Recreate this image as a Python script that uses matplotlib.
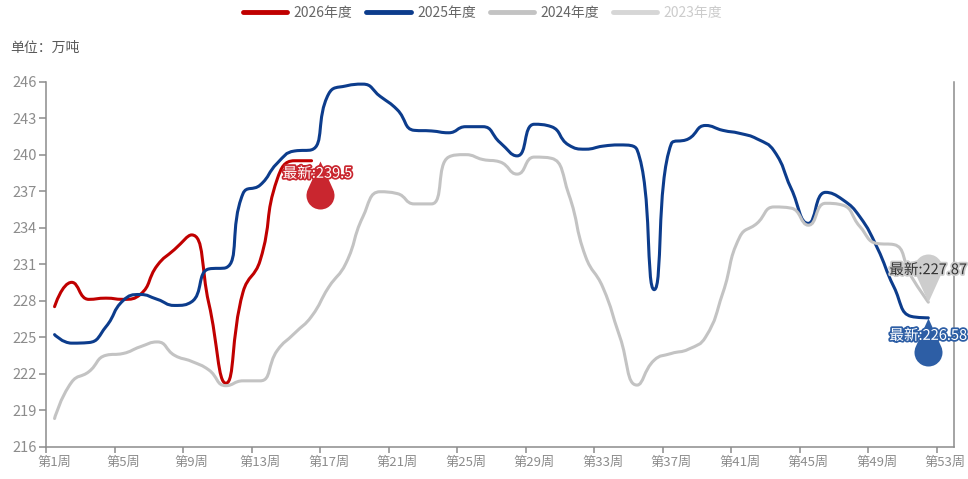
import numpy as np
import matplotlib
matplotlib.use("Agg")
import matplotlib.pyplot as plt
from matplotlib.path import Path
from matplotlib.patches import PathPatch
from matplotlib.lines import Line2D
from matplotlib import patheffects
from matplotlib.transforms import offset_copy

plt.rcParams["font.family"] = ["Liberation Sans Narrow", "Noto Sans CJK SC", "DejaVu Sans"]

weeks = list(range(1, 54))
week_labels = ["第%d周" % w for w in weeks]
series_names = ["2026年度", "2025年度", "2024年度", "2023年度"]

y2026 = [227.5, 229.5, 228.1, 228.2, 228.1, 228.5, 230.9, 232.2, 233.4, 227.8,
         221.2, 228.7, 231.3, 238.0, 239.5, 239.5]
y2025 = [225.2, 224.5, 224.55, 225.85, 228.0, 228.5, 228.1, 227.6, 227.9, 230.6,
         230.7, 236.8, 237.5, 239.3, 240.3, 240.4, 245.0, 245.65, 245.8, 244.8,
         243.7, 242.0, 241.95, 241.8, 242.3, 242.3, 241.0, 239.9, 242.5, 242.3,
         240.8, 240.45, 240.7, 240.8, 240.4, 228.9, 240.9, 241.3, 242.4, 242.0,
         241.75, 241.3, 240.3, 237.2, 234.35, 236.9, 236.3, 234.9, 232.4, 229.1,
         226.7, 226.58]
y2024 = [218.3, 221.3, 222.15, 223.5, 223.65, 224.2, 224.6, 223.5, 223.0, 222.3,
         221.0, 221.4, 221.4, 223.9, 225.3, 226.7, 229.1, 231.05, 234.9, 236.95,
         236.8, 235.95, 235.95, 239.8, 240.0, 239.6, 239.4, 238.4, 239.8, 239.7,
         236.8, 231.6, 229.1, 225.0, 221.05, 223.1, 223.65, 224.0, 225.0, 228.6,
         233.25, 234.35, 235.7, 235.6, 234.2, 236.0, 235.85, 234.1, 232.7, 232.6,
         230.0, 227.87]

line_colors = ["#c00000", "#0c3c8c", "#c3c3c3", "#d6d6d6"]
pin_colors = ["#c9262f", "#2d5ea5", "#cdcdcd"]


def smooth_path(ax, xs, ys, smooth=0.5):
    # bezier smoothing like echarts "smooth: true", done in pixel space
    pts = ax.transData.transform(np.column_stack([xs, ys]))
    n = len(pts)
    verts = [pts[0]]
    codes = [Path.MOVETO]
    cp0 = pts[0]
    for i in range(1, n):
        px, py = pts[i - 1]
        x, y = pts[i]
        if i == n - 1:
            cp1 = np.array([x, y])
            next_cp0 = cp1
        else:
            nx, ny = pts[i + 1]
            vx, vy = nx - px, ny - py
            len_prev = np.hypot(x - px, y - py)
            len_next = np.hypot(nx - x, ny - y)
            ratio = len_next / (len_next + len_prev)
            ncx = x + vx * smooth * ratio
            ncy = y + vy * smooth * ratio
            ncx = max(min(ncx, max(nx, x)), min(nx, x))
            ncy = max(min(ncy, max(ny, y)), min(ny, y))
            vx, vy = ncx - x, ncy - y
            c1x = x - vx * len_prev / len_next
            c1y = y - vy * len_prev / len_next
            c1x = max(min(c1x, max(px, x)), min(px, x))
            c1y = max(min(c1y, max(py, y)), min(py, y))
            vx, vy = x - c1x, y - c1y
            next_cp0 = np.array([x + vx * len_next / len_prev, y + vy * len_next / len_prev])
            cp1 = np.array([c1x, c1y])
        verts += [cp0, cp1, pts[i]]
        codes += [Path.CURVE4] * 3
        cp0 = next_cp0
    data_verts = ax.transData.inverted().transform(np.array(verts))
    return Path(data_verts, codes)


def pin_marker(tip_up):
    d = 34.0 / 14.0  # tip distance / radius
    phi = np.degrees(np.arccos(1 / d))
    arc = Path.arc(-90 + phi, 270 - phi)
    verts = np.vstack([[0, 0], arc.vertices + [0, d], [0, 0]])
    codes = [Path.MOVETO, Path.LINETO] + list(arc.codes[1:]) + [Path.CLOSEPOLY]
    if tip_up:
        verts = verts * [1, -1]
    size = 2 * np.max(np.abs(verts)) * 14 * 0.72
    return Path(verts, codes), size


fig = plt.figure(figsize=(9.68, 4.79), dpi=100)
ax = fig.add_axes([46 / 968, 32.5 / 479, 908 / 968, 364.8 / 479])
ax.set_xlim(0.5, 53.5)
ax.set_ylim(216, 246)

all_series = [y2026, y2025, y2024]
for vals, color in zip(all_series, line_colors):
    xs = weeks[:len(vals)]
    path = smooth_path(ax, xs, vals)
    ax.add_patch(PathPatch(path, facecolor="none", edgecolor=color, lw=2.2,
                           capstyle="round", joinstyle="round", zorder=3))

# pins with latest value
pin_setup = [
    (y2026, pin_colors[0], True, (8, 0), (6, -13), "white"),
    (y2025, pin_colors[1], True, (0, 0), (0, -18), "white"),
    (y2024, pin_colors[2], False, (0, 0), (0, 32), "#333333"),
]
for vals, color, tip_up, shift, txt_off, txt_color in pin_setup:
    x_last = len(vals)
    v_last = vals[-1]
    marker, size = pin_marker(tip_up)
    tr = offset_copy(ax.transData, fig=fig, x=shift[0], y=shift[1], units="dots")
    ax.plot([x_last], [v_last], marker=marker, markersize=size, color=color,
            markeredgewidth=0, transform=tr, zorder=4, clip_on=False)
    ax.annotate("最新:%s" % v_last, xy=(x_last, v_last), xytext=txt_off,
                textcoords="offset pixels", ha="center", va="center",
                fontsize=10.5, color=txt_color, family=["Noto Sans CJK SC"], zorder=5,
                path_effects=[patheffects.withStroke(linewidth=2.5, foreground=color)])

# axes styling
for side in ["left", "bottom", "right"]:
    ax.spines[side].set_color("#8c8c8c")
    ax.spines[side].set_linewidth(1.1)
ax.spines["top"].set_visible(False)

ax.set_yticks(np.arange(216, 247, 3))
ax.tick_params(axis="y", length=5, width=1.1, color="#8c8c8c", pad=1.5,
               labelsize=10.5, labelcolor="#8c8c8c")

ax.set_xticks(np.arange(0.5, 53.5, 4))
ax.set_xticklabels([])
ax.set_xticks(weeks[::4], minor=True)
ax.set_xticklabels(week_labels[::4], minor=True)
ax.tick_params(axis="x", which="major", length=4, width=1.1, color="#8c8c8c")
ax.tick_params(axis="x", which="minor", length=0, pad=7, labelsize=9.5, labelcolor="#8c8c8c")

fig.text(10 / 968, 1 - 48 / 479, "单位：万吨", fontsize=10, color="#595959",
         family=["Noto Sans CJK SC"], va="center", ha="left")

handles = [Line2D([], [], color=c, lw=3.5, solid_capstyle="round") for c in line_colors]
leg = fig.legend(handles, series_names, loc="center", bbox_to_anchor=(0.4985, 0.973),
                 ncol=4, frameon=False, handlelength=3.2, handletextpad=0.45,
                 columnspacing=1.0, prop={"size": 10})
for i, t in enumerate(leg.get_texts()):
    t.set_color("#cccccc" if i == 3 else "#666666")

fig.savefig("out.png", dpi=100)
